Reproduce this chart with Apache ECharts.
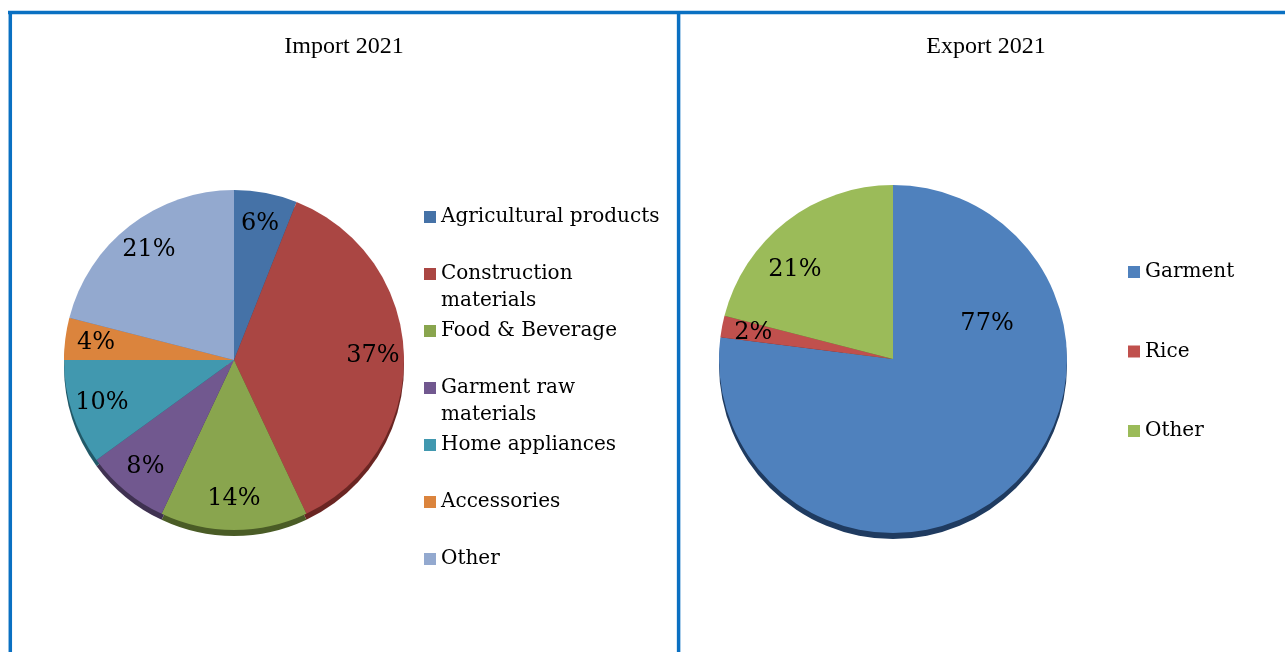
<!DOCTYPE html>
<html>
<head>
<meta charset="utf-8">
<script src="https://cdn.jsdelivr.net/npm/echarts@6/dist/echarts.min.js"></script>
<style>
  html, body { margin: 0; padding: 0; background: #ffffff; }
  #chart { width: 1285px; height: 652px; }
</style>
</head>
<body>
<div id="chart"></div>
<script>
// Trade structure 2021: import and export shares (%)
const importTitle = 'Import 2021';
const exportTitle = 'Export 2021';
const importCategories = ['Agricultural products', 'Construction materials', 'Food & Beverage',
  'Garment raw materials', 'Home appliances', 'Accessories', 'Other'];
const importShares = [6, 37, 14, 8, 10, 4, 21];
const exportCategories = ['Garment', 'Rice', 'Other'];
const exportShares = [77, 2, 21];

// Slice faces and the darker rim that gives the pies their depth
const importColors = ['#4572A7', '#AA4643', '#89A54E', '#71588F', '#4198AF', '#DB843D', '#93A9CF'];
const importRimColors = ['#2B4A70', '#6A2522', '#4A5C26', '#3F3151', '#215968', '#974806', '#5A6F94'];
const exportColors = ['#4F81BD', '#C0504D', '#9BBB59'];
const exportRimColors = ['#1F3B60', '#632523', '#4F6228'];

const FRAME = '#0A70C2';
const LEGEND_FONT = 'DejaVu Serif';
const LEGEND_SIZE = 20;
const LEGEND_LINE = 27;
const SWATCH = 12;
const LABEL_SIZE = 24;
const TITLE_FONT = 'Liberation Serif';
const TITLE_SIZE = 24;

const measure = document.createElement('canvas').getContext('2d');
function textWidth(text, size, family) {
  measure.font = size + 'px "' + family + '"';
  return measure.measureText(text).width;
}
// Greedy word wrap so long legend entries break onto a second line
function wrap(text, maxWidth) {
  const lines = [];
  let current = '';
  text.split(' ').forEach(word => {
    const candidate = current ? current + ' ' + word : word;
    if (current && textWidth(candidate, LEGEND_SIZE, LEGEND_FONT) > maxWidth) {
      lines.push(current);
      current = word;
    } else {
      current = candidate;
    }
  });
  lines.push(current);
  return lines;
}

function pieTitle(text, centerX) {
  const w = textWidth(text, TITLE_SIZE, TITLE_FONT);
  return {
    text: text,
    left: centerX - w / 2,
    top: 35,
    padding: 0,
    textStyle: { fontFamily: TITLE_FONT, fontSize: TITLE_SIZE, fontWeight: 'normal', color: '#000000', lineHeight: TITLE_SIZE }
  };
}

// One legend block per entry. For wrapped entries the swatch sits at the top of a
// taller icon box, so it stays level with the first text line.
function legendEntry(name, color, left, lineCenterY, maxWidth) {
  const lines = wrap(name, maxWidth);
  const extra = (lines.length - 1) * LEGEND_LINE;
  const boxH = SWATCH + extra;
  const icon = extra
    ? 'path://M0,0h' + SWATCH + 'v' + SWATCH + 'h-' + SWATCH + 'zM0,' + boxH + 'h' + SWATCH
    : 'rect';
  return {
    orient: 'vertical',
    left: left,
    top: lineCenterY - LEGEND_LINE / 2,
    padding: 0,
    itemWidth: SWATCH,
    itemHeight: boxH,
    itemGap: 0,
    icon: icon,
    data: [{ name: name, icon: icon, itemStyle: { color: color, borderWidth: 0 } }],
    formatter: () => lines.join('\n'),
    textStyle: {
      fontFamily: LEGEND_FONT, fontSize: LEGEND_SIZE, color: '#000000', lineHeight: LEGEND_LINE
    }
  };
}

function pieSeries(names, values, colors, rimColors, center, radius, labelLayout) {
  const faces = names.map((n, i) => ({ name: n, value: values[i], itemStyle: { color: colors[i] } }));
  const rims = names.map((n, i) => ({ name: n, value: values[i], itemStyle: { color: rimColors[i] } }));
  const labels = names.map((n, i) => ({ name: n, value: values[i] }));
  const common = { type: 'pie', startAngle: 90, clockwise: true, avoidLabelOverlap: false, animation: false };
  return [
    Object.assign({}, common, {
      center: center, radius: radius, z: 2, data: faces,
      label: { show: false }, labelLine: { show: false },
      itemStyle: { borderWidth: 0 }, emphasis: { disabled: true }
    }),
    Object.assign({}, common, {
      center: [center[0], center[1] + 6], radius: radius, z: 1, data: rims, silent: true,
      label: { show: false }, labelLine: { show: false },
      itemStyle: { borderWidth: 0 }, emphasis: { disabled: true }
    }),
    Object.assign({}, common, {
      center: center, radius: [radius * 0.6, radius], z: 3, data: labels, silent: true,
      itemStyle: { color: 'rgba(0,0,0,0)', borderWidth: 0 }, emphasis: { disabled: true },
      labelLine: { show: false },
      label: {
        show: true, position: 'inside', formatter: '{c}%',
        fontFamily: LEGEND_FONT, fontSize: LABEL_SIZE, color: '#000000'
      },
      labelLayout: labelLayout
    })
  ];
}

const legends = []
  .concat(importCategories.map((n, i) => legendEntry(n, importColors[i], 424, 217 + i * 57, 226)))
  .concat(exportCategories.map((n, i) => legendEntry(n, exportColors[i], 1128, 272 + i * 79.5, 140)));

const option = {
  backgroundColor: '#ffffff',
  title: [pieTitle(importTitle, 344), pieTitle(exportTitle, 986)],
  legend: legends,
  series: []
    .concat(pieSeries(importCategories, importShares, importColors, importRimColors, [234, 360], 170, null))
    .concat(pieSeries(exportCategories, exportShares, exportColors, exportRimColors, [893, 359], 174,
      function (p) {
        if (p.dataIndex === 0) return { dy: -142 };
        if (p.dataIndex === 2) return { dx: -11, dy: 23 };
        return {};
      })),
  graphic: [
    { type: 'line', silent: true, shape: { x1: 8, y1: 12.5, x2: 1285, y2: 12.5 }, style: { stroke: FRAME, lineWidth: 3.5 } },
    { type: 'line', silent: true, shape: { x1: 10.3, y1: 11, x2: 10.3, y2: 652 }, style: { stroke: FRAME, lineWidth: 3.5 } },
    { type: 'line', silent: true, shape: { x1: 678.6, y1: 11, x2: 678.6, y2: 652 }, style: { stroke: FRAME, lineWidth: 3.5 } }
  ]
};

const chart = echarts.init(document.getElementById('chart'), null, { renderer: 'canvas' });
chart.setOption(option);
</script>
</body>
</html>
